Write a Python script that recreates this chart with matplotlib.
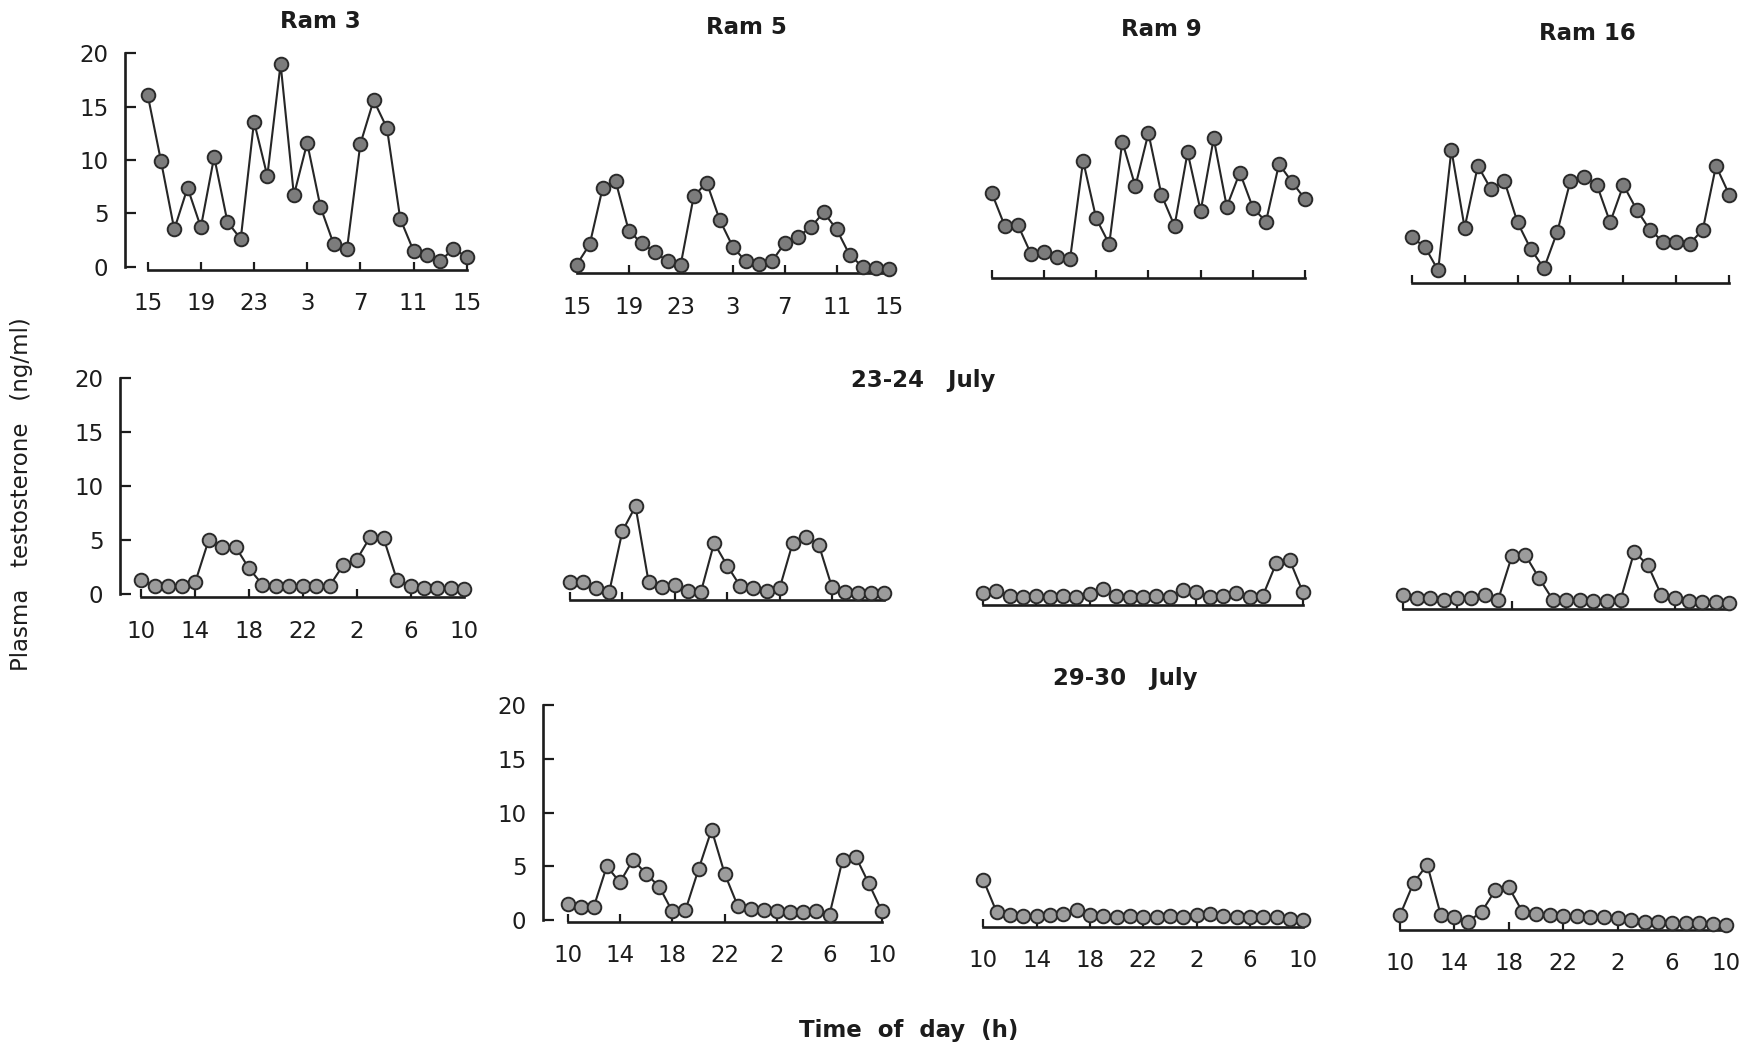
import matplotlib
matplotlib.use("Agg")
import matplotlib.pyplot as plt

plt.rcParams['font.family'] = ['DejaVu Sans']

# ---- data: plasma testosterone (ng/ml), hourly samples over 24 h ----
hours = list(range(25))
tick_hours = [0, 4, 8, 12, 16, 20, 24]
labels_first = ["15", "19", "23", "3", "7", "11", "15"]
labels_later = ["10", "14", "18", "22", "2", "6", "10"]
y_ticks = [0, 5, 10, 15, 20]

rams = ["Ram 3", "Ram 5", "Ram 9", "Ram 16"]

ram3_first = [16.1, 9.9, 3.5, 7.4, 3.7, 10.3, 4.2, 2.6, 13.6, 8.5, 19.0, 6.7, 11.6,
              5.6, 2.1, 1.7, 11.5, 15.6, 13.0, 4.5, 1.5, 1.1, 0.5, 1.7, 0.9]
ram5_first = [0.5, 2.4, 7.7, 8.3, 3.7, 2.5, 1.7, 0.8, 0.5, 6.9, 8.2, 4.7, 2.2,
              0.8, 0.6, 0.8, 2.5, 3.1, 4.0, 5.4, 3.8, 1.4, 0.3, 0.2, 0.1]
ram9_first = [7.7, 4.6, 4.7, 2.0, 2.2, 1.7, 1.5, 10.7, 5.3, 2.9, 12.5, 8.3, 13.3,
              7.5, 4.6, 11.5, 6.0, 12.8, 6.4, 9.6, 6.3, 5.0, 10.4, 8.7, 7.1]
ram16_first = [4.0, 3.1, 0.9, 12.2, 4.9, 10.7, 8.5, 9.3, 5.4, 2.9, 1.1, 4.5, 9.3,
               9.7, 8.9, 5.4, 8.9, 6.6, 4.7, 3.6, 3.6, 3.4, 4.7, 10.7, 8.0]

ram3_jul23 = [1.3, 0.8, 0.8, 0.8, 1.1, 5.0, 4.4, 4.4, 2.4, 0.9, 0.8, 0.8, 0.8,
              0.8, 0.8, 2.7, 3.2, 5.3, 5.2, 1.3, 0.8, 0.6, 0.6, 0.6, 0.5]
ram5_jul23 = [1.4, 1.4, 0.8, 0.5, 6.1, 8.4, 1.4, 0.9, 1.1, 0.6, 0.5, 5.0, 2.9,
              1.0, 0.8, 0.6, 0.8, 5.0, 5.6, 4.8, 0.9, 0.5, 0.4, 0.4, 0.4]
ram9_jul23 = [0.8, 1.0, 0.6, 0.5, 0.6, 0.5, 0.6, 0.5, 0.7, 1.2, 0.6, 0.5, 0.5,
              0.6, 0.5, 1.1, 0.9, 0.5, 0.6, 0.8, 0.5, 0.6, 3.6, 3.9, 0.9]
ram16_jul23 = [1.0, 0.7, 0.7, 0.6, 0.7, 0.7, 1.0, 0.6, 4.6, 4.7, 2.6, 0.6, 0.6,
               0.6, 0.5, 0.5, 0.6, 5.0, 3.8, 1.0, 0.7, 0.5, 0.4, 0.4, 0.3]

ram5_jul29 = [1.5, 1.2, 1.2, 5.0, 3.5, 5.6, 4.3, 3.1, 0.8, 0.9, 4.7, 8.4, 4.3,
              1.3, 1.0, 0.9, 0.8, 0.7, 0.7, 0.8, 0.5, 5.6, 5.9, 3.4, 0.8]
ram9_jul29 = [4.2, 1.2, 0.9, 0.8, 0.8, 0.9, 1.0, 1.4, 0.9, 0.8, 0.7, 0.8, 0.7,
              0.7, 0.8, 0.7, 0.9, 1.0, 0.8, 0.7, 0.7, 0.7, 0.7, 0.6, 0.5]
ram16_jul29 = [1.2, 4.2, 5.9, 1.2, 1.0, 0.6, 1.5, 3.5, 3.8, 1.5, 1.3, 1.2, 1.1,
               1.1, 1.0, 1.0, 0.9, 0.7, 0.6, 0.6, 0.5, 0.5, 0.5, 0.4, 0.3]

# ---- figure ----
W, H, DPI = 1744, 1051, 100
fig = plt.figure(figsize=(W / DPI, H / DPI), dpi=DPI)
fig.patch.set_facecolor("white")

INK = "#1c1c1c"
FS = 16.5


def panel(values, x0, pxh, zero, ppu, axis_y, yaxis_x=None, xlabels=None, light=False):
    """Place one panel by its pixel geometry: x0 = pixel of hour 0,
    pxh = pixels per hour, zero = pixel row of 0 ng/ml, ppu = pixels per ng/ml."""
    left = yaxis_x if yaxis_x is not None else x0 - 10
    right = x0 + 24 * pxh + 10
    top = zero - 20 * ppu - 6
    bottom = axis_y
    ax = fig.add_axes([left / W, 1 - bottom / H, (right - left) / W, (bottom - top) / H])
    ax.set_xlim((left - x0) / pxh, (right - x0) / pxh)
    ax.set_ylim((zero - bottom) / ppu, (zero - top) / ppu)
    ax.patch.set_visible(False)
    ax.spines['top'].set_visible(False)
    ax.spines['right'].set_visible(False)
    ax.spines['bottom'].set_bounds(0, 24)
    ax.spines['bottom'].set_linewidth(1.9)
    ax.spines['bottom'].set_color(INK)
    ax.set_xticks(tick_hours)
    ax.tick_params(axis='x', direction='in', length=6, width=1.6, color=INK,
                   pad=16, labelsize=FS, labelcolor=INK)
    if xlabels:
        ax.set_xticklabels(xlabels)
    else:
        ax.set_xticklabels([])
    if yaxis_x is not None:
        ax.spines['left'].set_bounds(0, 20)
        ax.spines['left'].set_linewidth(1.9)
        ax.spines['left'].set_color(INK)
        ax.set_yticks(y_ticks)
        ax.tick_params(axis='y', direction='in', length=8, width=1.6, color=INK,
                       pad=12, labelsize=FS, labelcolor=INK)
    else:
        ax.spines['left'].set_visible(False)
        ax.set_yticks([])
    face = "#9c9c9c" if light else "#7c7c7c"
    ax.plot(hours, values, '-', color="#262626", lw=1.5, zorder=3, clip_on=False)
    ax.plot(hours, values, 'o', ms=9.8, mfc=face, mec="#2a2a2a", mew=1.4,
            zorder=4, clip_on=False)
    return ax


# first sampling period
panel(ram3_first, 147.7, 13.29, 266.7, 10.67, 270, yaxis_x=125, xlabels=labels_first)
panel(ram5_first, 576.7, 13.0, 270, 10.67, 273.3, xlabels=labels_first)
panel(ram9_first, 991.7, 13.06, 275, 10.67, 278.3)
panel(ram16_first, 1411.7, 13.23, 280, 10.67, 283.3)

# 23-24 July
panel(ram3_jul23, 141.3, 13.46, 594.3, 10.8, 597.3, yaxis_x=120, xlabels=labels_later, light=True)
panel(ram5_jul23, 570, 13.1, 597, 10.8, 600, light=True)
panel(ram9_jul23, 983, 13.33, 602, 10.8, 605, light=True)
panel(ram16_jul23, 1403, 13.6, 606, 10.8, 609.3, light=True)

# 29-30 July
panel(ram5_jul29, 567.5, 13.1, 920, 10.75, 921.7, yaxis_x=543, xlabels=labels_later, light=True)
panel(ram9_jul29, 983.3, 13.33, 925, 10.75, 926.7, xlabels=labels_later, light=True)
panel(ram16_jul29, 1400, 13.6, 928, 10.75, 930, xlabels=labels_later, light=True)

# titles and labels
title_pos = [(320, 22), (746, 27), (1161, 30), (1587, 33)]
for name, (tx, ty) in zip(rams, title_pos):
    fig.text(tx / W, 1 - ty / H, name, ha='center', va='center', fontsize=FS,
             fontweight='semibold', color=INK)

fig.text(923 / W, 1 - 380 / H, "23-24   July", ha='center', va='center',
         fontsize=FS, fontweight='semibold', color=INK)
fig.text(1125 / W, 1 - 678 / H, "29-30   July", ha='center', va='center',
         fontsize=FS, fontweight='semibold', color=INK)
fig.text(22 / W, 1 - 494 / H, "Plasma   testosterone   (ng/ml)", ha='center',
         va='center', rotation=90, fontsize=FS, color=INK)
fig.text(909 / W, 1 - 1031 / H, "Time  of  day  (h)", ha='center', va='center',
         fontsize=FS, fontweight='semibold', color=INK)

fig.savefig("out.png", dpi=DPI, facecolor="white")
